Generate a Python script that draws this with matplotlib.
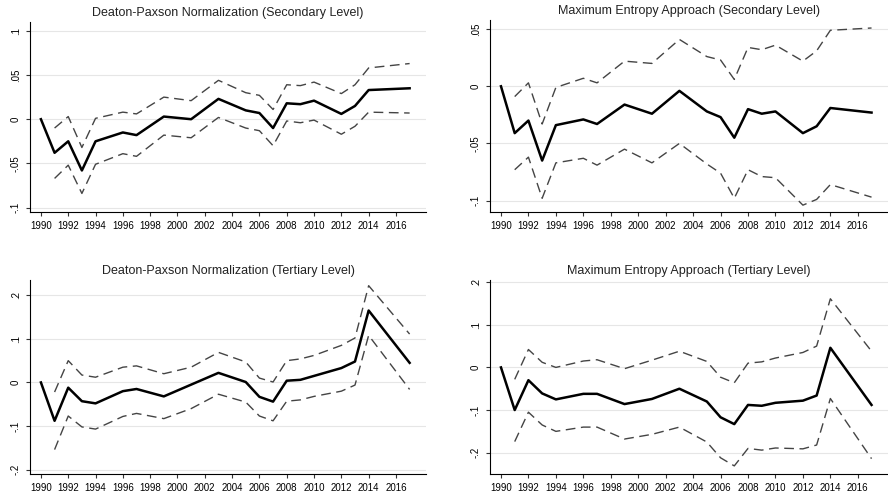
import matplotlib.pyplot as plt
from matplotlib.ticker import FuncFormatter

years = [1990, 1991, 1992, 1993, 1994, 1996, 1997, 1999, 2001, 2003,
         2005, 2006, 2007, 2008, 2009, 2010, 2012, 2013, 2014, 2017]

# Deaton-Paxson, secondary
dp_sec = [0, -.038, -.025, -.058, -.025, -.015, -.018, .003, 0, .023,
          .010, .007, -.010, .018, .017, .021, .006, .015, .033, .035]
dp_sec_hi = [-.010, .003, -.032, .001, .008, .006, .025, .021, .044,
             .030, .027, .011, .039, .038, .042, .029, .039, .058, .063]
dp_sec_lo = [-.067, -.052, -.084, -.051, -.039, -.042, -.018, -.021, .002,
             -.010, -.013, -.030, -.002, -.004, -.001, -.017, -.008, .008, .007]

# Maximum entropy, secondary
me_sec = [0, -.041, -.030, -.065, -.034, -.029, -.033, -.016, -.024, -.004,
          -.022, -.027, -.045, -.020, -.024, -.022, -.041, -.035, -.019, -.023]
me_sec_hi = [-.009, .003, -.033, -.001, .007, .003, .022, .020, .041,
             .026, .023, .006, .034, .032, .036, .022, .031, .049, .051]
me_sec_lo = [-.073, -.062, -.098, -.067, -.063, -.069, -.055, -.067, -.050,
             -.068, -.076, -.098, -.073, -.079, -.080, -.104, -.099, -.086, -.097]

# Deaton-Paxson, tertiary
dp_ter = [0, -.088, -.012, -.043, -.048, -.020, -.015, -.032, -.005, .022,
          .001, -.033, -.044, .004, .006, .015, .033, .048, .165, .045]
dp_ter_hi = [-.022, .050, .017, .012, .035, .038, .020, .035, .069,
             .047, .010, .001, .050, .054, .062, .085, .102, .222, .111]
dp_ter_lo = [-.154, -.077, -.102, -.107, -.078, -.071, -.083, -.060, -.027,
             -.045, -.077, -.088, -.043, -.040, -.032, -.020, -.006, .108, -.016]

# Maximum entropy, tertiary
me_ter = [0, -.100, -.030, -.061, -.075, -.062, -.062, -.086, -.074, -.050,
          -.080, -.117, -.133, -.088, -.090, -.083, -.078, -.066, .046, -.088]
me_ter_hi = [-.028, .042, .012, 0, .015, .018, -.003, .017, .038,
             .014, -.023, -.036, .010, .013, .022, .035, .050, .161, .038]
me_ter_lo = [-.174, -.105, -.135, -.150, -.140, -.140, -.168, -.157, -.140,
             -.175, -.212, -.231, -.190, -.194, -.189, -.191, -.182, -.073, -.214]


def stata_fmt(v, pos):
    s = ('%g' % round(v, 4))
    if s.startswith('0.'):
        s = s[1:]
    elif s.startswith('-0.'):
        s = '-' + s[2:]
    return s


plt.rcParams['font.family'] = ['Liberation Sans', 'DejaVu Sans']
fig = plt.figure(figsize=(8.88, 4.95), dpi=100)

W, H = 888, 495
panels = [
    ((30, 22, 426, 212), 'Deaton-Paxson Normalization (Secondary Level)',
     dp_sec, dp_sec_hi, dp_sec_lo, (-.105, .11), [-.1, -.05, 0, .05, .1]),
    ((490, 20, 888, 212), 'Maximum Entropy Approach (Secondary Level)',
     me_sec, me_sec_hi, me_sec_lo, (-.11, .058), [-.1, -.05, 0, .05]),
    ((30, 280, 426, 474), 'Deaton-Paxson Normalization (Tertiary Level)',
     dp_ter, dp_ter_hi, dp_ter_lo, (-.21, .235), [-.2, -.1, 0, .1, .2]),
    ((490, 280, 888, 474), 'Maximum Entropy Approach (Tertiary Level)',
     me_ter, me_ter_hi, me_ter_lo, (-.25, .205), [-.2, -.1, 0, .1, .2]),
]

for (x0, y0, x1, y1), title, est, hi, lo, ylim, yt in panels:
    ax = fig.add_axes([x0 / W, 1 - y1 / H, (x1 - x0) / W, (y1 - y0) / H])
    ax.plot(years, est, color='black', lw=1.8)
    ax.plot(years[1:], hi, color='#444444', lw=1.0, ls=(0, (7, 4)))
    ax.plot(years[1:], lo, color='#444444', lw=1.0, ls=(0, (7, 4)))
    ax.set_xlim(1989.2, 2018.2)
    ax.set_ylim(*ylim)
    ax.set_xticks(range(1990, 2017, 2))
    ax.set_yticks(yt)
    ax.yaxis.set_major_formatter(FuncFormatter(stata_fmt))
    ax.grid(axis='y', color='#e6e6e6', lw=0.8)
    ax.set_axisbelow(True)
    for s in ['top', 'right']:
        ax.spines[s].set_visible(False)
    ax.tick_params(labelsize=7, length=3, color='#333333')
    for lab in ax.get_yticklabels():
        lab.set_rotation(90)
        lab.set_va('center')
    ax.set_title(title, fontsize=9, color='#222222', pad=4)

plt.savefig('out.png', dpi=100, facecolor='white')
